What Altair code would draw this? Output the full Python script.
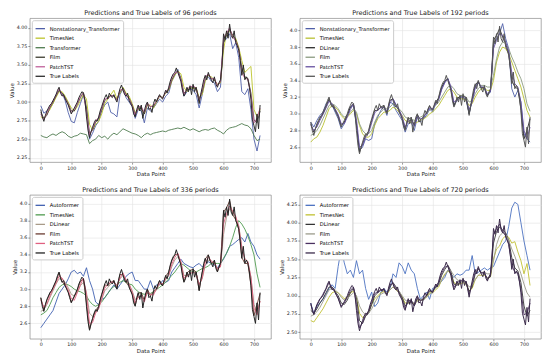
import altair as alt
import pandas as pd

# True labels, every 5 data points (0..720)
TRUE = [2.90, 2.80, 2.74, 2.82, 2.88, 2.92, 2.96, 2.98, 3.02, 3.06,
        3.10, 3.16, 3.20, 3.12, 3.08, 3.10, 3.04, 3.00, 2.96, 2.90,
        2.84, 2.88, 2.92, 2.96, 3.00, 3.06, 3.10, 3.14, 3.12, 3.02,
        2.80, 2.62, 2.52, 2.60, 2.66, 2.72, 2.76, 2.74, 2.80, 2.88,
        2.94, 3.00, 3.06, 3.10, 3.04, 3.12, 3.08, 3.06, 3.10, 3.04,
        3.00, 3.10, 3.18, 3.23, 3.16, 3.10, 3.08, 3.12, 3.02, 2.98,
        2.94, 2.84, 2.80, 2.90, 2.96, 2.88, 2.96, 2.78, 2.88, 2.96,
        3.00, 2.90, 2.92, 2.86, 2.98, 3.04, 3.00, 3.06, 3.10, 3.06,
        3.04, 3.10, 3.16, 3.12, 3.20, 3.28, 3.34, 3.38, 3.40, 3.46,
        3.40, 3.34, 3.28, 3.16, 3.08, 3.12, 3.20, 3.14, 3.22, 3.10,
        3.24, 3.14, 3.20, 3.10, 2.98, 3.10, 3.20, 3.30, 3.36, 3.30,
        3.40, 3.34, 3.30, 3.26, 3.34, 3.24, 3.20, 3.26, 3.30, 3.50,
        3.92, 3.84, 3.96, 3.86, 4.05, 3.90, 3.86, 3.96, 3.80, 3.76,
        3.70, 3.56, 3.36, 3.50, 3.30, 3.34, 3.30, 3.20, 3.04, 2.76,
        2.68, 2.60, 2.84, 2.64, 2.96]

# ---- 96 periods (every 10 points)
P1_NST = [2.95,2.85,2.88,2.92,2.98,3.10,3.16,3.12,3.02,2.86,
          2.74,2.72,2.86,2.98,3.10,2.90,2.50,2.58,2.68,2.74,
          2.88,2.96,3.00,2.86,2.84,2.80,3.10,3.18,3.06,3.00,
          2.94,2.78,2.90,2.88,2.72,2.92,2.88,2.92,2.98,3.04,
          3.00,3.08,3.12,3.28,3.36,3.44,3.32,3.08,3.14,3.18,
          3.16,3.10,2.92,3.10,3.30,3.34,3.28,3.26,3.14,3.20,
          3.80,3.86,3.92,3.72,3.80,3.60,3.14,3.10,3.18,2.90,
          2.50,2.34,2.55]
P1_TIMES = [2.80,2.78,2.84,2.90,2.98,3.06,3.14,3.14,3.08,3.00,
            2.92,2.88,2.94,3.02,3.10,3.04,2.70,2.62,2.70,2.74,
            2.84,2.98,3.04,3.10,3.16,3.04,3.12,3.20,3.12,3.08,
            2.98,2.86,2.90,2.92,2.84,2.96,2.96,2.92,3.00,3.08,
            3.06,3.12,3.16,3.28,3.36,3.42,3.38,3.20,3.14,3.20,
            3.18,3.20,3.06,3.10,3.28,3.36,3.34,3.30,3.24,3.26,
            3.70,3.94,3.96,3.90,3.86,3.74,3.56,3.40,3.44,3.48,
            2.90,2.80,2.90]
P1_TRANS = [2.55,2.53,2.52,2.55,2.57,2.55,2.58,2.60,2.58,2.54,
            2.52,2.54,2.55,2.58,2.57,2.56,2.44,2.48,2.50,2.55,
            2.52,2.54,2.50,2.55,2.58,2.56,2.60,2.64,2.62,2.60,
            2.58,2.57,2.55,2.52,2.56,2.58,2.56,2.58,2.59,2.60,
            2.61,2.60,2.62,2.63,2.64,2.65,2.64,2.66,2.64,2.62,
            2.64,2.62,2.60,2.62,2.63,2.62,2.64,2.65,2.62,2.60,
            2.57,2.62,2.65,2.66,2.67,2.69,2.71,2.69,2.68,2.64,
            2.55,2.48,2.50]
P1_FILM = [2.86,2.78,2.82,2.93,3.00,3.08,3.16,3.12,3.06,2.98,
           2.88,2.88,2.97,3.06,3.13,2.92,2.58,2.62,2.73,2.78,
           2.90,3.02,3.06,3.09,3.08,3.03,3.14,3.19,3.10,3.05,
           2.96,2.83,2.92,2.92,2.84,2.98,2.94,2.94,3.02,3.08,
           3.06,3.13,3.17,3.30,3.38,3.42,3.31,3.12,3.16,3.18,
           3.20,3.18,3.04,3.14,3.32,3.37,3.32,3.30,3.23,3.27,
           3.80,3.90,3.98,3.90,3.84,3.72,3.46,3.34,3.32,3.12,
           2.76,2.72,2.88]
P1_PATCH = [2.84,2.76,2.85,2.94,3.01,3.09,3.18,3.10,3.05,2.97,
            2.86,2.90,2.98,3.08,3.12,2.86,2.55,2.64,2.75,2.79,
            2.92,3.04,3.05,3.08,3.09,3.02,3.16,3.17,3.09,3.04,
            2.95,2.82,2.94,2.94,2.86,2.99,2.93,2.96,3.01,3.09,
            3.05,3.14,3.18,3.32,3.39,3.41,3.30,3.10,3.18,3.20,
            3.22,3.19,3.01,3.17,3.34,3.38,3.31,3.32,3.22,3.28,
            3.86,3.93,4.00,3.88,3.82,3.71,3.40,3.32,3.31,3.08,
            2.72,2.78,2.92]

# ---- 192 periods
P2_NST = [2.90,2.84,2.92,2.98,3.02,3.12,3.16,3.10,3.02,2.94,
          2.82,2.88,2.98,3.08,3.10,2.86,2.56,2.60,2.70,2.68,
          2.70,2.88,2.96,3.04,3.08,2.98,3.14,3.12,3.04,2.98,
          2.92,2.78,2.88,2.90,2.80,2.96,2.90,2.94,2.98,3.06,
          3.02,3.12,3.18,3.30,3.38,3.42,3.30,3.10,3.16,3.20,
          3.20,3.16,3.00,3.16,3.32,3.38,3.30,3.30,3.22,3.26,
          3.82,3.90,3.96,4.08,3.90,3.78,3.30,3.20,3.28,3.14,
          2.76,2.70,2.66]
P2_TIMES = [2.66,2.70,2.72,2.78,2.86,2.96,3.06,3.10,3.08,3.04,
            2.98,2.94,2.96,3.00,3.04,3.00,2.86,2.76,2.72,2.72,
            2.76,2.86,2.94,2.98,3.02,3.02,3.04,3.08,3.06,3.02,
            2.98,2.92,2.90,2.90,2.88,2.90,2.92,2.94,2.96,3.00,
            3.02,3.06,3.10,3.16,3.22,3.28,3.30,3.26,3.20,3.18,
            3.18,3.16,3.10,3.12,3.20,3.26,3.30,3.30,3.28,3.28,
            3.40,3.62,3.74,3.80,3.78,3.72,3.62,3.52,3.42,3.32,
            3.18,3.04,2.96]
P2_DLIN = [2.88,2.78,2.86,2.94,3.00,3.08,3.18,3.10,3.05,2.98,
           2.86,2.90,2.98,3.08,3.12,2.88,2.54,2.64,2.74,2.79,
           2.92,3.04,3.04,3.08,3.10,3.02,3.16,3.18,3.09,3.04,
           2.95,2.82,2.94,2.95,2.86,2.99,2.93,2.96,3.01,3.09,
           3.05,3.14,3.19,3.32,3.39,3.42,3.30,3.10,3.18,3.21,
           3.22,3.19,3.00,3.17,3.34,3.39,3.31,3.32,3.22,3.28,
           3.88,3.94,4.02,3.92,3.84,3.72,3.40,3.32,3.30,3.06,
           2.70,2.80,2.94]
P2_FILM = [2.74,2.76,2.80,2.86,2.94,3.02,3.10,3.12,3.10,3.06,
           3.00,2.96,2.98,3.02,3.06,3.02,2.88,2.80,2.76,2.76,
           2.80,2.90,2.98,3.02,3.06,3.06,3.08,3.12,3.10,3.06,
           3.02,2.96,2.94,2.94,2.92,2.94,2.96,2.98,3.00,3.04,
           3.06,3.10,3.14,3.20,3.26,3.32,3.34,3.30,3.24,3.22,
           3.22,3.20,3.14,3.16,3.24,3.30,3.34,3.34,3.32,3.32,
           3.46,3.66,3.80,3.86,3.84,3.78,3.68,3.60,3.50,3.42,
           3.30,3.12,3.03]
P2_PATCH = [2.86,2.80,2.84,2.92,2.99,3.07,3.15,3.12,3.06,2.99,
            2.88,2.88,2.96,3.05,3.12,2.94,2.60,2.62,2.72,2.77,
            2.89,3.01,3.05,3.07,3.08,3.03,3.13,3.18,3.11,3.05,
            2.97,2.84,2.91,2.93,2.85,2.97,2.94,2.95,3.01,3.07,
            3.06,3.12,3.17,3.29,3.37,3.42,3.33,3.14,3.16,3.19,
            3.21,3.19,3.05,3.14,3.31,3.37,3.33,3.31,3.24,3.27,
            3.78,3.88,3.96,3.94,3.86,3.74,3.50,3.36,3.32,3.14,
            2.80,2.70,2.84]

# ---- 336 periods
P3_AUTO = [2.55,2.60,2.65,2.70,2.75,2.85,2.95,3.00,3.05,3.12,
           3.20,3.22,3.18,3.20,3.15,3.25,3.10,3.00,2.85,2.82,
           2.88,2.90,2.95,3.00,3.05,3.00,3.05,3.10,3.15,3.18,
           3.20,3.10,3.10,3.05,3.00,3.00,3.10,3.00,3.05,3.05,
           3.10,3.08,3.10,3.20,3.25,3.30,3.35,3.30,3.28,3.26,
           3.25,3.28,3.30,3.26,3.28,3.32,3.30,3.28,3.25,3.30,
           3.35,3.42,3.50,3.52,3.55,3.58,3.60,3.55,3.65,3.55,
           3.50,3.40,3.35]
P3_TIMES = [2.70,2.72,2.75,2.82,2.90,2.96,3.02,3.05,3.06,3.05,
            3.03,3.00,2.98,2.97,2.95,2.92,2.86,2.82,2.80,2.82,
            2.85,2.90,2.95,3.00,3.03,3.05,3.08,3.10,3.08,3.06,
            3.05,3.00,2.97,2.95,2.94,2.95,2.95,2.97,3.00,3.02,
            3.05,3.08,3.12,3.16,3.20,3.25,3.30,3.28,3.25,3.22,
            3.20,3.20,3.22,3.24,3.25,3.27,3.30,3.30,3.30,3.30,
            3.36,3.42,3.50,3.60,3.72,3.80,3.76,3.70,3.62,3.52,
            3.40,3.18,3.02]
P3_DLIN = [2.74,2.76,2.82,2.90,2.98,3.06,3.12,3.12,3.08,3.02,
           2.94,2.92,2.96,3.04,3.08,2.96,2.72,2.68,2.74,2.78,
           2.88,2.98,3.02,3.06,3.08,3.04,3.12,3.16,3.10,3.06,
           2.98,2.88,2.90,2.92,2.88,2.96,2.94,2.95,2.99,3.06,
           3.05,3.11,3.16,3.26,3.34,3.38,3.32,3.16,3.16,3.18,
           3.20,3.18,3.06,3.12,3.28,3.34,3.32,3.30,3.24,3.26,
           3.64,3.84,3.94,3.90,3.84,3.74,3.50,3.36,3.32,3.14,
           2.82,2.74,2.86]
P3_FILM = [2.90,2.76,2.87,2.95,3.01,3.09,3.19,3.09,3.04,2.97,
           2.85,2.91,2.99,3.09,3.12,2.84,2.53,2.65,2.75,2.80,
           2.93,3.05,3.04,3.08,3.10,3.01,3.17,3.17,3.08,3.03,
           2.94,2.81,2.95,2.96,2.87,3.00,2.92,2.97,3.00,3.10,
           3.04,3.15,3.20,3.33,3.40,3.41,3.29,3.09,3.19,3.22,
           3.23,3.20,2.99,3.19,3.35,3.40,3.30,3.33,3.21,3.29,
           3.90,3.95,4.03,3.87,3.81,3.70,3.37,3.30,3.30,3.05,
           2.69,2.82,2.95]
P3_PATCH = [2.87,2.79,2.83,2.92,3.00,3.07,3.15,3.13,3.06,2.99,
            2.89,2.87,2.96,3.05,3.13,2.94,2.60,2.61,2.72,2.77,
            2.89,3.01,3.06,3.08,3.08,3.04,3.13,3.19,3.11,3.06,
            2.97,2.84,2.91,2.92,2.85,2.97,2.94,2.93,3.01,3.07,
            3.06,3.12,3.16,3.29,3.37,3.42,3.32,3.13,3.15,3.18,
            3.20,3.18,3.05,3.13,3.31,3.37,3.33,3.30,3.24,3.26,
            3.76,3.88,3.97,3.91,3.85,3.73,3.48,3.35,3.32,3.14,
            2.78,2.70,2.86]

# ---- 720 periods
P4_AUTO = [2.90,2.75,2.85,2.90,2.95,3.02,3.10,3.15,3.10,3.40,
           3.65,3.45,3.30,3.35,3.25,3.48,3.30,3.35,3.10,2.95,
           3.05,2.85,2.90,3.05,3.10,3.05,3.10,3.30,3.25,3.45,
           3.40,3.30,3.45,3.35,3.30,3.10,2.95,3.00,3.05,2.95,
           3.10,3.12,3.15,3.20,3.25,3.35,3.30,3.25,3.30,3.28,
           3.30,3.35,3.35,3.55,3.30,3.32,3.35,3.38,3.35,3.38,
           3.40,3.50,3.60,3.70,3.75,3.95,4.20,4.28,4.25,4.00,
           3.75,3.55,3.35]
P4_TIMES = [2.66,2.64,2.70,2.76,2.82,2.90,2.98,3.04,3.06,3.04,
            3.00,2.96,2.98,3.04,3.06,2.98,2.76,2.70,2.74,2.78,
            2.88,2.96,3.00,3.04,3.06,3.02,3.08,3.12,3.08,3.04,
            2.98,2.90,2.90,2.92,2.88,2.94,2.94,2.95,2.98,3.04,
            3.04,3.08,3.12,3.22,3.30,3.34,3.30,3.18,3.16,3.16,
            3.18,3.16,3.06,3.10,3.22,3.28,3.28,3.28,3.24,3.26,
            3.50,3.64,3.68,3.78,3.82,3.80,3.72,3.74,3.60,3.48,
            3.30,3.44,3.14]
P4_DLIN = [2.80,2.76,2.82,2.90,2.96,3.04,3.12,3.12,3.06,3.00,
           2.90,2.88,2.94,3.04,3.10,2.98,2.66,2.62,2.72,2.76,
           2.88,3.00,3.04,3.08,3.08,3.02,3.12,3.18,3.12,3.06,
           2.98,2.86,2.90,2.92,2.86,2.96,2.94,2.94,3.00,3.06,
           3.06,3.12,3.16,3.28,3.36,3.42,3.34,3.16,3.14,3.18,
           3.20,3.18,3.06,3.12,3.30,3.36,3.32,3.30,3.24,3.26,
           3.72,3.88,3.94,3.90,3.86,3.76,3.52,3.38,3.34,3.18,
           2.86,2.72,2.80]
P4_FILM = [2.72,2.74,2.78,2.84,2.92,3.00,3.08,3.10,3.08,3.04,
           2.98,2.94,2.96,3.00,3.04,3.00,2.86,2.78,2.74,2.76,
           2.82,2.90,2.98,3.02,3.04,3.04,3.08,3.12,3.10,3.06,
           3.00,2.94,2.92,2.92,2.90,2.92,2.94,2.96,2.98,3.02,
           3.06,3.10,3.14,3.22,3.28,3.34,3.34,3.28,3.22,3.20,
           3.20,3.18,3.12,3.14,3.22,3.28,3.32,3.32,3.30,3.30,
           3.48,3.70,3.82,3.86,3.84,3.76,3.64,3.54,3.42,3.30,
           3.16,3.04,2.98]
P4_PATCH = [2.88,2.75,2.86,2.95,3.00,3.09,3.18,3.10,3.05,2.97,
            2.86,2.90,2.98,3.07,3.12,2.88,2.56,2.63,2.74,2.79,
            2.91,3.03,3.05,3.08,3.09,3.02,3.15,3.17,3.09,3.04,
            2.95,2.82,2.93,2.94,2.86,2.99,2.93,2.96,3.01,3.08,
            3.05,3.14,3.18,3.31,3.39,3.41,3.30,3.11,3.18,3.20,
            3.22,3.19,3.02,3.16,3.33,3.38,3.31,3.32,3.22,3.28,
            3.84,3.92,3.98,3.88,3.82,3.71,3.42,3.32,3.31,3.09,
            2.74,2.76,2.90]

X5 = [i * 5 for i in range(len(TRUE))]
X10 = [i * 10 for i in range(73)]
XTICKS = [0, 100, 200, 300, 400, 500, 600, 700]

FONT = "DejaVu Sans"
W, H = 243, 145


def panel(title, names, preds, colors, ydom, yvals, yfmt):
    rows = []
    for n, arr in zip(names, preds):
        for x, v in zip(X10, arr):
            rows.append({"x": x, "v": v, "s": n})
    pdf = pd.DataFrame(rows)
    tdf = pd.DataFrame({"x": X5, "v": TRUE, "s": "True Labels"})
    dom = names + ["True Labels"]
    color = alt.Color(
        "s:N",
        scale=alt.Scale(domain=dom, range=colors),
        legend=alt.Legend(title=None, orient="top-left", offset=2, fillColor="white",
                          strokeColor="#cccccc", padding=3, cornerRadius=2,
                          labelFontSize=5.2, labelFont=FONT, symbolType="stroke",
                          symbolStrokeWidth=1.3, symbolSize=90, rowPadding=0.6,
                          labelOffset=4, labelLimit=200),
    )
    xenc = alt.X("x:Q", scale=alt.Scale(domain=[-36, 756], nice=False, zero=False),
                 axis=alt.Axis(values=XTICKS, format="d", title="Data Point"))
    yenc = alt.Y("v:Q", scale=alt.Scale(domain=ydom, nice=False, zero=False),
                 axis=alt.Axis(values=yvals, format=yfmt, title="Value"))
    pl = alt.Chart(pdf).mark_line(strokeWidth=0.9, clip=True).encode(x=xenc, y=yenc, color=color)
    tl = alt.Chart(tdf).mark_line(strokeWidth=1.0, clip=True).encode(x=xenc, y=yenc, color=color)
    return alt.layer(pl, tl).properties(title=title, width=W, height=H)


p1 = panel("Predictions and True Labels of 96 periods",
           ["Nonstationary_Transformer", "TimesNet", "Transformer", "Film", "PatchTST"],
           [P1_NST, P1_TIMES, P1_TRANS, P1_FILM, P1_PATCH],
           ["#4f5fa8", "#bcc42a", "#4d7a4d", "#3b3b2e", "#c0609a", "#2a2a2a"],
           [2.19, 4.13], [2.25, 2.5, 2.75, 3.0, 3.25, 3.5, 3.75, 4.0], ".2f")
p2 = panel("Predictions and True Labels of 192 periods",
           ["Nonstationary_Transformer", "TimesNet", "DLinear", "Film", "PatchTST"],
           [P2_NST, P2_TIMES, P2_DLIN, P2_FILM, P2_PATCH],
           ["#4f5fa8", "#b8c030", "#2a2a2a", "#8a9a80", "#6650a0", "#555555"],
           [2.42, 4.145], [2.6, 2.8, 3.0, 3.2, 3.4, 3.6, 3.8, 4.0], ".1f")
p3 = panel("Predictions and True Labels of 336 periods",
           ["Autoformer", "TimesNet", "DLinear", "Film", "PatchTST"],
           [P3_AUTO, P3_TIMES, P3_DLIN, P3_FILM, P3_PATCH],
           ["#3f5fb0", "#4e9a4e", "#a89a88", "#6a3a30", "#e06080", "#222222"],
           [2.42, 4.10], [2.6, 2.8, 3.0, 3.2, 3.4, 3.6, 3.8, 4.0], ".1f")
p4 = panel("Predictions and True Labels of 720 periods",
           ["Autoformer", "TimesNet", "DLinear", "Film", "PatchTST"],
           [P4_AUTO, P4_TIMES, P4_DLIN, P4_FILM, P4_PATCH],
           ["#4a70c0", "#c0c030", "#333333", "#9a9a8a", "#4a3060", "#3a2a4a"],
           [2.41, 4.38], [2.5, 2.75, 3.0, 3.25, 3.5, 3.75, 4.0, 4.25], ".2f")

chart = (
    alt.concat(p1, p2, p3, p4, columns=2, spacing={"column": 29, "row": 33}, bounds="flush")
    .resolve_scale(color="independent")
    .resolve_legend(color="independent")
    .properties(padding={"left": 0, "top": 0, "right": 0, "bottom": 0})
    .configure(background="white")
    .configure_view(stroke="#888888", strokeWidth=0.7)
    .configure_axis(gridColor="#e2e2e2", gridWidth=0.6, domain=False, tickColor="#555555",
                    tickSize=2, tickWidth=0.6, labelFontSize=4.8, labelFont=FONT, labelColor="#222222",
                    labelPadding=1, titleFontSize=5.5, titleFont=FONT, titleFontWeight="normal",
                    titleColor="#222222", titlePadding=2)
    .configure_title(fontSize=6.5, font=FONT, fontWeight="normal", color="#222222", offset=1.5)
)

chart.save("out.html", embed_options={"renderer": "svg", "actions": False})
